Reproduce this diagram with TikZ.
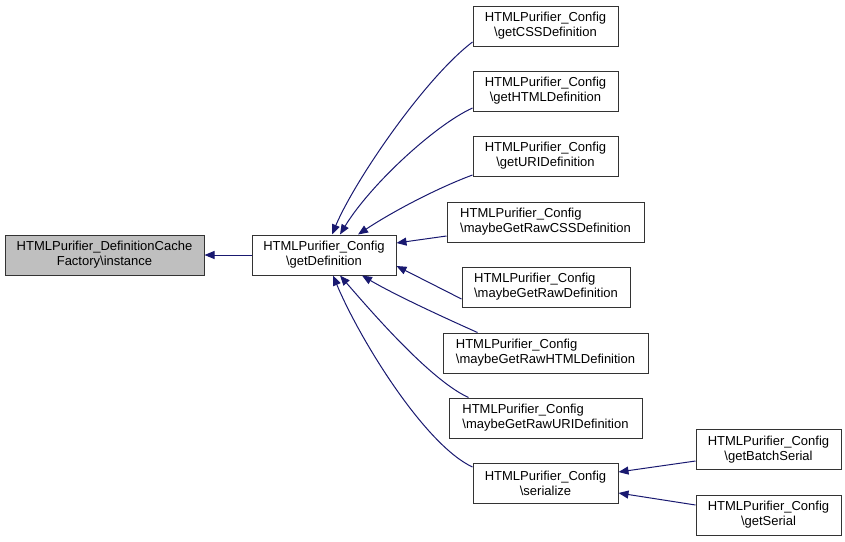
\documentclass[tikz,border=0pt]{standalone}
\usepackage{fontspec}
\setmainfont{Liberation Sans}
\usetikzlibrary{arrows.meta}
\definecolor{midnight}{HTML}{191970}
\definecolor{boxline}{HTML}{333333}
\begin{document}
\begin{tikzpicture}[x=1pt,y=-1pt,
  box/.style={draw=boxline, line width=1pt, fill=white, minimum height=40pt,
    inner sep=0pt, align=center, font=\fontsize{13}{15}\selectfont},
  lbox/.style={box, align=left},
  edge/.style={draw=midnight, line width=1pt, -{Triangle[length=10pt,width=8pt]}}]
\useasboundingbox (0,0) rectangle (845,541);
\node[box, fill=black!25, minimum width=199pt] (inst) at (104.5,255) {HTMLPurifier\_DefinitionCache\\Factory\textbackslash instance};
\node[box, minimum width=144pt] (gdef) at (324,255) {HTMLPurifier\_Config\\\textbackslash getDefinition};
\node[box, minimum width=145pt] (gcss) at (545.5,26) {HTMLPurifier\_Config\\\textbackslash getCSSDefinition};
\node[box, minimum width=145pt] (ghtml) at (545.5,91) {HTMLPurifier\_Config\\\textbackslash getHTMLDefinition};
\node[box, minimum width=145pt] (guri) at (545.5,156) {HTMLPurifier\_Config\\\textbackslash getURIDefinition};
\node[lbox, minimum width=197pt] (mcss) at (545.5,222) {HTMLPurifier\_Config\\\textbackslash maybeGetRawCSSDefinition};
\node[lbox, minimum width=168pt] (mraw) at (546,287) {HTMLPurifier\_Config\\\textbackslash maybeGetRawDefinition};
\node[lbox, minimum width=205pt] (mhtml) at (545.5,353) {HTMLPurifier\_Config\\\textbackslash maybeGetRawHTMLDefinition};
\node[lbox, minimum width=193pt] (muri) at (545.5,418) {HTMLPurifier\_Config\\\textbackslash maybeGetRawURIDefinition};
\node[box, minimum width=145pt] (ser) at (545.5,483) {HTMLPurifier\_Config\\\textbackslash serialize};
\node[box, minimum width=145pt] (gbatch) at (768.5,449.5) {HTMLPurifier\_Config\\\textbackslash getBatchSerial};
\node[box, minimum width=145pt] (gser) at (768.5,515) {HTMLPurifier\_Config\\\textbackslash getSerial};

\draw[edge] (gdef.west) -- (inst.east);
\draw[edge] ([yshift=-16pt]gcss.west) .. controls (425,78) and (355,180) .. ([xshift=8pt]gdef.north);
\draw[edge] ([yshift=-17pt]ghtml.west) .. controls (435,125) and (370,185) .. ([xshift=16pt]gdef.north);
\draw[edge] ([yshift=-19pt]guri.west) .. controls (440,187) and (395,210) .. ([xshift=34pt]gdef.north);
\draw[edge] ([yshift=-14pt]mcss.west) -- ([yshift=12pt]gdef.east);
\draw[edge] ([yshift=-12pt]mraw.west) -- ([yshift=-11pt]gdef.east);
\draw[edge] ([xshift=-68pt]mhtml.north) .. controls (445,318) and (395,295) .. ([xshift=38pt]gdef.south);
\draw[edge] ([xshift=-77pt]muri.north) .. controls (430,380) and (370,310) .. ([xshift=16pt]gdef.south);
\draw[edge] ([yshift=16pt]ser.west) .. controls (425,445) and (360,340) .. ([xshift=9pt]gdef.south);
\draw[edge] ([yshift=-11.5pt]gbatch.west) -- ([yshift=11pt]ser.east);
\draw[edge] ([yshift=10pt]gser.west) -- ([yshift=-10pt]ser.east);
\end{tikzpicture}
\end{document}
